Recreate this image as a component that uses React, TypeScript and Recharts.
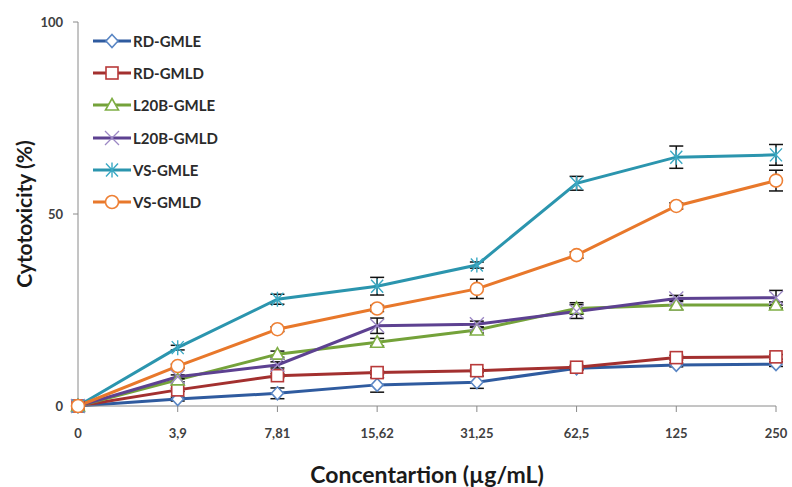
import React from "react";
import { LineChart, Line, XAxis, YAxis, ErrorBar, Label } from "recharts";

// x categories (µg/mL)
const concentrations = ["0", "3,9", "7,81", "15,62", "31,25", "62,5", "125", "250"];

// cytotoxicity (%) per extract
const rdGmle = [0, 1.8, 3.3, 5.5, 6.2, 9.8, 10.7, 10.9];
const rdGmld = [0, 4.2, 7.9, 8.7, 9.2, 10.1, 12.6, 12.8];
const l20bGmle = [0, 6.8, 13.5, 16.6, 19.8, 25.4, 26.3, 26.3];
const l20bGmld = [0, 7.6, 10.7, 20.9, 21.3, 24.6, 28.0, 28.2];
const vsGmle = [0, 15.2, 27.8, 31.2, 36.7, 58.0, 64.8, 65.4];
const vsGmld = [0, 10.4, 20.0, 25.4, 30.5, 39.3, 52.1, 58.7];

// standard deviations
const rdGmleErr = [0, 0.5, 1.4, 1.9, 1.6, 0.5, 0.5, 0.6];
const rdGmldErr = [0, 0.4, 0.5, 0.5, 0.5, 0.5, 0.6, 0.6];
const l20bGmleErr = [0, 0.5, 0.8, 1.0, 0.8, 1.5, 1.2, 0.8];
const l20bGmldErr = [0, 0.5, 0.8, 2.0, 0.8, 1.8, 0.8, 1.9];
const vsGmleErr = [0, 0.6, 1.3, 2.3, 0.8, 1.8, 2.9, 2.7];
const vsGmldErr = [0, 0.5, 0.6, 0.8, 2.5, 0.8, 0.8, 2.7];

const seriesNames = ["RD-GMLE", "RD-GMLD", "L20B-GMLE", "L20B-GMLD", "VS-GMLE", "VS-GMLD"];
const seriesValues = [rdGmle, rdGmld, l20bGmle, l20bGmld, vsGmle, vsGmld];
const seriesErrors = [rdGmleErr, rdGmldErr, l20bGmleErr, l20bGmldErr, vsGmleErr, vsGmldErr];

const lineColors = ["#2f5b9f", "#a3302f", "#74a23a", "#5d4191", "#2b95ae", "#e8782b"];
const markColors = ["#5a86c4", "#b83a3a", "#7fae45", "#9c88c4", "#3aa9c4", "#ee8035"];
const markKinds = ["diamond", "square", "triangle", "x", "star", "circle"];

const data = concentrations.map((c, i) => {
  const row: any = { conc: c };
  seriesNames.forEach((name, s) => {
    row[name] = seriesValues[s][i];
    row[name + "_err"] = seriesErrors[s][i];
  });
  return row;
});

const FONT = "Lato, 'Open Sans', sans-serif";

function Marker({ kind, cx, cy, color }: any) {
  if (cx == null || cy == null) return null;
  const sw = 1.6;
  switch (kind) {
    case "diamond":
      return (
        <polygon
          points={`${cx},${cy - 6.5} ${cx + 6},${cy} ${cx},${cy + 6.5} ${cx - 6},${cy}`}
          fill="#fff"
          stroke={color}
          strokeWidth={sw}
        />
      );
    case "square":
      return <rect x={cx - 6} y={cy - 6} width={12} height={12} fill="#fff" stroke={color} strokeWidth={sw} />;
    case "triangle":
      return (
        <polygon
          points={`${cx},${cy - 6.5} ${cx + 6.5},${cy + 5} ${cx - 6.5},${cy + 5}`}
          fill="#fff"
          stroke={color}
          strokeWidth={sw}
        />
      );
    case "x":
      return (
        <path
          d={`M${cx - 7},${cy - 7}L${cx + 7},${cy + 7}M${cx + 7},${cy - 7}L${cx - 7},${cy + 7}`}
          stroke={color}
          strokeWidth={1.3}
          fill="none"
        />
      );
    case "star":
      return (
        <path
          d={`M${cx - 6},${cy - 6.5}L${cx + 6},${cy + 6.5}M${cx + 6},${cy - 6.5}L${cx - 6},${cy + 6.5}M${cx},${cy - 7.5}L${cx},${cy + 7.5}`}
          stroke={color}
          strokeWidth={1.4}
          fill="none"
        />
      );
    default:
      return <circle cx={cx} cy={cy} r={6.5} fill="#fff" stroke={color} strokeWidth={sw} />;
  }
}

function LegendBox() {
  return (
    <div style={{ position: "absolute", left: 92, top: 25, fontFamily: FONT }}>
      {seriesNames.map((name, s) => (
        <div key={name} style={{ display: "flex", alignItems: "center", height: 32.2 }}>
          <svg width={40} height={16}>
            <line x1={1} y1={8} x2={39} y2={8} stroke={lineColors[s]} strokeWidth={3} />
            <Marker kind={markKinds[s]} cx={20} cy={8} color={markColors[s]} />
          </svg>
          <span style={{ fontSize: 15, fontWeight: 700, color: "#2b2b2b", marginLeft: 1 }}>{name}</span>
        </div>
      ))}
    </div>
  );
}

export default function App() {
  return (
    <div style={{ position: "absolute", left: 0, top: 0, width: 792, height: 487, background: "#fff" }}>
      <LineChart width={792} height={487} data={data} margin={{ top: 22, right: 16, left: 0, bottom: 0 }}>
        <XAxis
          dataKey="conc"
          height={81}
          stroke="#8a8a8a"
          tickSize={6}
          tickMargin={17}
          tick={{ fontSize: 13, fontWeight: 700, fill: "#404040", fontFamily: FONT }}
          interval={0}
        >
          <Label
            value="Concentartion (µg/mL)"
            position="insideBottom"
            offset={4}
            style={{ fontSize: 23, fontWeight: 700, fill: "#1a1a1a", fontFamily: FONT }}
          />
        </XAxis>
        <YAxis
          width={78}
          domain={[0, 100]}
          ticks={[0, 50, 100]}
          stroke="#8a8a8a"
          tickSize={5}
          tickMargin={10}
          tick={{ fontSize: 13, fontWeight: 700, fill: "#404040", fontFamily: FONT }}
        >
          <Label
            value="Cytotoxicity (%)"
            angle={-90}
            position="insideLeft"
            offset={25}
            style={{ fontSize: 21, fontWeight: 700, fill: "#1a1a1a", fontFamily: FONT, textAnchor: "middle" }}
          />
        </YAxis>
        {seriesNames.map((name, s) => (
          <Line
            key={name}
            dataKey={name}
            stroke={lineColors[s]}
            strokeWidth={3}
            isAnimationActive={false}
            dot={(p: any) => <Marker key={name + p.index} kind={markKinds[s]} cx={p.cx} cy={p.cy} color={markColors[s]} />}
            activeDot={false}
          >
            <ErrorBar dataKey={name + "_err"} width={7} stroke="#111" strokeWidth={1.5} />
          </Line>
        ))}
      </LineChart>
      <LegendBox />
    </div>
  );
}
